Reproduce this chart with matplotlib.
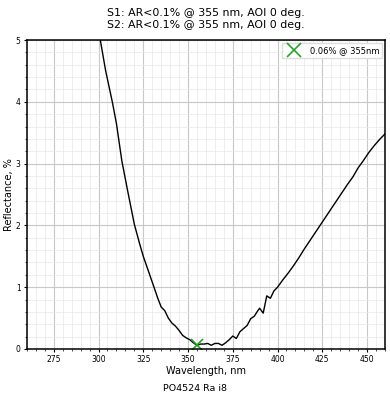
import matplotlib
matplotlib.use("Agg")
import matplotlib.pyplot as plt
from matplotlib.ticker import MultipleLocator

wavelength = [298, 301, 304, 307.7, 310, 313, 316, 320, 323, 325, 328, 331, 333, 335, 337,
              339, 341, 343, 345, 347, 349, 351, 353, 355, 357, 359, 361, 363, 365, 367,
              369, 371, 373, 375, 377, 379, 381, 383, 385, 387, 389, 390, 392, 394, 396,
              398, 400, 403, 406, 409, 412, 415, 418, 421, 424, 427, 430, 433, 436, 439,
              442, 445, 448, 451, 454, 457, 460]
reflectance = [5.45, 5.0, 4.5, 4.0, 3.65, 3.05, 2.6, 2.02, 1.7, 1.5, 1.25, 1.0, 0.83, 0.68, 0.62,
               0.5, 0.42, 0.37, 0.3, 0.22, 0.18, 0.15, 0.1, 0.06, 0.08, 0.08, 0.09, 0.06, 0.09, 0.09,
               0.06, 0.1, 0.15, 0.21, 0.17, 0.28, 0.33, 0.38, 0.49, 0.53, 0.62, 0.66, 0.58, 0.86, 0.82,
               0.94, 1.0, 1.12, 1.23, 1.35, 1.48, 1.62, 1.75, 1.88, 2.01, 2.14, 2.27, 2.4, 2.53, 2.66,
               2.78, 2.93, 3.05, 3.18, 3.29, 3.39, 3.48]
min_wl = 355
min_r = 0.06

fig = plt.figure(figsize=(3.9, 4.0), dpi=100)
ax = fig.add_axes([0.069, 0.1275, 0.918, 0.7725])

ax.plot(wavelength, reflectance, color="black", lw=1.0)
ax.plot([min_wl], [min_r], "x", color="#2ca02c", ms=8, mew=1.2,
        label="%.2f%% @ %dnm" % (min_r, min_wl))

ax.set_xlim(260, 460)
ax.set_ylim(0, 5)
ax.xaxis.set_major_locator(MultipleLocator(25))
ax.xaxis.set_minor_locator(MultipleLocator(5))
ax.yaxis.set_major_locator(MultipleLocator(1))
ax.yaxis.set_minor_locator(MultipleLocator(0.2))
ax.grid(which="major", color="#c8c8c8", lw=0.8)
ax.grid(which="minor", color="#e8e8e8", lw=0.5)
ax.set_axisbelow(True)
ax.tick_params(labelsize=5.5, length=2.5, width=0.8, pad=2)
ax.tick_params(which="minor", length=1.5, width=0.5)
for s in ax.spines.values():
    s.set_linewidth(1.1)

ax.set_xlabel("Wavelength, nm", fontsize=7, labelpad=1)
ax.set_ylabel("Reflectance, %", fontsize=7, labelpad=1)
ax.set_title("S1: AR<0.1% @ 355 nm, AOI 0 deg.\nS2: AR<0.1% @ 355 nm, AOI 0 deg.",
             fontsize=7.9, pad=9, linespacing=1.15)
ax.legend(loc="upper right", fontsize=6, markerscale=1.3, handlelength=2.0,
          handletextpad=0.9, borderaxespad=0.3, fancybox=False, framealpha=1,
          edgecolor="#dddddd")

fig.text(0.5, 0.022, "PO4524 Ra i8", ha="center", fontsize=6.8)

fig.savefig("out.png", dpi=100)
